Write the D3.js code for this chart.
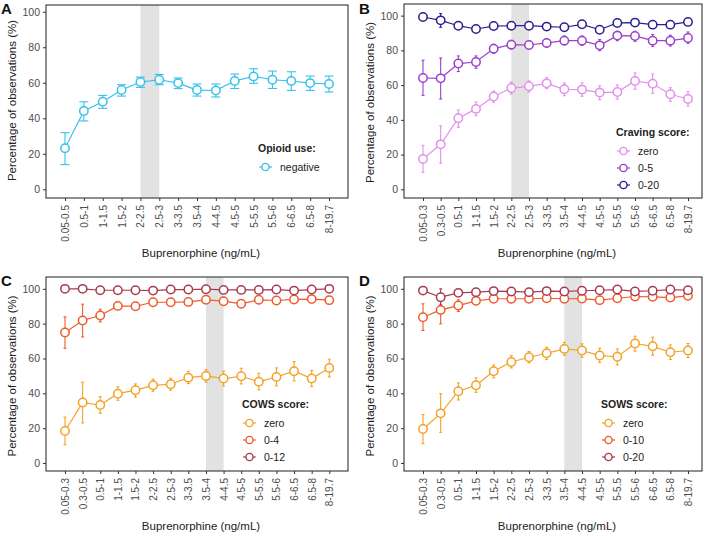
<!DOCTYPE html>
<html><head><meta charset="utf-8">
<script src="https://cdn.jsdelivr.net/npm/d3@7"></script>
<style>body{margin:0;background:#fff}svg{display:block;font-family:"Liberation Sans",Arial,sans-serif}</style>
</head><body><svg id="c" width="708" height="536"></svg>
<script>
// ---------- data ----------
const catsA = ["0.05-0.5","0.5-1","1-1.5","1.5-2","2-2.5","2.5-3","3-3.5","3.5-4","4-4.5","4.5-5","5-5.5","5.5-6","6-6.5","6.5-8","8-19.7"];
const catsBCD = ["0.05-0.3","0.3-0.5","0.5-1","1-1.5","1.5-2","2-2.5","2.5-3","3-3.5","3.5-4","4-4.5","4.5-5","5-5.5","5.5-6","6-6.5","6.5-8","8-19.7"];
const yTicks = [0,20,40,60,80,100];

// A: opioid use negative
const opioidNeg   = [23.1,44.1,49.3,55.9,60.4,61.7,59.8,55.9,55.7,61.0,63.6,61.7,61.0,59.8,59.3];
const opioidNegLo = [13.9,38.5,45.6,52.5,57.4,58.9,56.7,52.5,52.0,56.8,59.7,56.8,55.7,55.7,54.8];
const opioidNegHi = [31.9,49.3,52.9,58.9,63.2,64.7,62.7,59.3,59.3,64.9,67.9,66.6,66.2,63.8,63.8];

// B: craving score
const cravZero   = [17.5,25.9,40.9,46.3,53.4,58.3,59.3,61.0,57.6,57.4,55.7,56.0,62.4,60.8,54.7,52.0];
const cravZeroLo = [9.8,15.0,35.7,42.4,50.1,54.9,56.0,58.0,53.9,53.6,51.6,52.0,57.6,55.3,50.7,48.0];
const cravZeroHi = [25.3,36.5,45.7,50.3,56.6,61.8,62.4,64.3,61.2,61.2,59.5,60.1,67.0,66.4,58.5,56.2];
const crav05   = [64.1,63.9,72.4,73.3,81.0,83.3,83.1,84.3,85.6,85.6,82.9,88.5,88.3,85.6,85.6,87.1];
const crav05Lo = [54.1,52.0,67.8,69.7,78.3,80.8,80.8,81.8,83.1,82.9,79.8,85.6,85.2,82.3,82.5,84.1];
const crav05Hi = [74.3,75.6,76.8,76.8,83.5,85.8,85.2,86.8,88.3,88.3,86.2,91.0,91.0,89.1,88.7,90.6];
const crav020   = [99.2,97.3,94.2,92.3,94.0,94.2,94.2,93.7,93.3,95.0,91.9,95.8,96.0,94.8,94.8,96.4];
const crav020Lo = [98.3,93.3,92.7,90.8,92.5,92.9,92.9,92.4,91.9,93.5,89.8,93.8,94.0,92.8,93.3,94.9];
const crav020Hi = [100,101.2,95.8,93.9,95.5,95.5,95.5,95.0,94.7,96.5,94.0,97.8,98.0,96.8,96.3,97.9];

// C: COWS score
const cowsZero   = [18.4,34.7,33.3,39.8,41.8,44.6,45.2,49.0,50.0,48.5,49.8,46.7,49.4,52.7,48.5,54.6];
const cowsZeroLo = [10.5,23.0,28.5,36.0,37.9,41.2,41.8,45.6,46.4,44.3,45.4,42.0,44.3,47.1,43.9,49.4];
const cowsZeroHi = [26.4,46.4,38.1,43.7,45.4,48.1,48.7,52.7,53.6,52.7,54.4,51.5,54.6,58.2,53.1,59.6];
const cows04   = [74.9,81.8,84.7,90.2,90.0,92.3,92.3,92.5,93.7,92.9,91.4,93.7,93.3,93.9,94.1,93.5];
const cows04Lo = [65.9,72.4,81.0,88.3,88.1,90.5,90.5,90.7,91.8,90.7,89.2,91.5,91.0,91.6,92.2,91.6];
const cows04Hi = [83.9,91.2,88.3,92.1,91.9,94.1,94.1,94.3,95.6,95.1,93.6,95.9,95.6,96.2,96.0,95.4];
const cows012   = [100,100,99.2,99.2,99.2,99.0,99.6,99.6,99.8,99.4,99.4,99.4,99.6,99.0,99.6,100];
const cows012Lo = [99.6,99.5,98.6,98.6,98.6,98.3,99.0,99.0,99.3,98.8,98.8,98.8,99.0,98.3,99.0,99.5];
const cows012Hi = [100,100,99.7,99.7,99.7,99.6,100,100,100,99.9,99.9,99.9,100,99.6,100,100];

// D: SOWS score
const sowsZero   = [19.5,28.5,41.2,44.6,52.7,58.0,60.7,63.0,65.5,64.6,61.7,61.0,68.6,67.0,63.6,64.6];
const sowsZeroLo = [11.1,17.6,36.2,40.6,48.9,54.6,57.5,59.4,61.9,60.7,57.7,56.3,64.2,61.9,59.4,60.5];
const sowsZeroHi = [27.8,39.8,46.0,48.9,56.3,61.7,64.0,66.5,69.2,68.4,65.9,65.5,72.8,72.2,67.8,68.6];
const sows010   = [83.7,87.9,90.4,93.1,94.3,94.3,94.3,94.6,94.3,94.4,93.5,94.6,95.6,95.4,95.0,96.0];
const sows010Lo = [76.1,79.9,87.0,91.0,92.5,92.6,92.6,93.0,92.6,92.6,91.8,93.0,94.0,93.7,93.3,94.5];
const sows010Hi = [91.4,95.8,93.7,95.2,96.1,96.0,96.0,96.2,96.0,96.2,95.2,96.2,97.2,97.1,96.7,97.5];
const sows020   = [99.0,95.2,97.7,98.1,98.7,98.5,98.1,98.7,98.5,98.9,99.2,99.6,98.5,98.9,99.6,99.2];
const sows020Lo = [98.0,90.8,96.2,97.1,97.9,97.7,97.3,97.9,97.7,98.1,98.5,99.0,97.7,98.2,99.0,98.5];
const sows020Hi = [100,100,99.2,99.1,99.5,99.3,98.9,99.5,99.3,99.6,99.8,100,99.3,99.6,100,99.8];

// ---------- panels ----------
const panels = [
  {letter:"A", cats:catsA, band:["2-2.5","2.5-3"], frame:{x0:46,x1:348,y0:5,y1:198}, pts:[65,329], yDom:[-4.9,103.8],
   legendTitle:"Opioid use:", legend:{x:258,y:152}, capW:4.5,
   series:[{name:"negative", color:"#38c1ea", v:opioidNeg, lo:opioidNegLo, hi:opioidNegHi}]},
  {letter:"B", cats:catsBCD, band:["2-2.5","2.5-3"], frame:{x0:404,x1:702,y0:4,y1:198}, pts:[423,688], yDom:[-5.0,106.7],
   legendTitle:"Craving score:", legend:{x:616,y:136}, capW:1.5,
   series:[{name:"zero", color:"#e48ef0", v:cravZero, lo:cravZeroLo, hi:cravZeroHi},
           {name:"0-5", color:"#9a40cc", v:crav05, lo:crav05Lo, hi:crav05Hi},
           {name:"0-20", color:"#2a1f8e", v:crav020, lo:crav020Lo, hi:crav020Hi}]},
  {letter:"C", cats:catsBCD, band:["3.5-4","4-4.5"], frame:{x0:46,x1:348,y0:277,y1:471}, pts:[65,329.3], yDom:[-4.6,106.8],
   legendTitle:"COWS score:", legend:{x:242,y:408}, capW:1.5,
   series:[{name:"zero", color:"#f4a126", v:cowsZero, lo:cowsZeroLo, hi:cowsZeroHi},
           {name:"0-4", color:"#ef5b2c", v:cows04, lo:cows04Lo, hi:cows04Hi},
           {name:"0-12", color:"#a83a50", v:cows012, lo:cows012Lo, hi:cows012Hi}]},
  {letter:"D", cats:catsBCD, band:["3.5-4","4-4.5"], frame:{x0:404,x1:702,y0:277,y1:471}, pts:[423,688], yDom:[-4.6,106.8],
   legendTitle:"SOWS score:", legend:{x:601,y:408}, capW:1.5,
   series:[{name:"zero", color:"#f4a126", v:sowsZero, lo:sowsZeroLo, hi:sowsZeroHi},
           {name:"0-10", color:"#ef5b2c", v:sows010, lo:sows010Lo, hi:sows010Hi},
           {name:"0-20", color:"#a83a50", v:sows020, lo:sows020Lo, hi:sows020Hi}]}
];

const svg = d3.select("#c");
const tickCol = "#4d4d4d";

panels.forEach(p => {
  const f = p.frame;
  const x = d3.scalePoint().domain(p.cats).range(p.pts);
  const y = d3.scaleLinear().domain(p.yDom).range([f.y1, f.y0]);
  const g = svg.append("g");

  // band
  g.append("rect").attr("x", x(p.band[0])).attr("y", f.y0)
    .attr("width", x(p.band[1]) - x(p.band[0])).attr("height", f.y1 - f.y0)
    .attr("fill", "#e2e2e2");

  // axes
  const xa = g.append("g").attr("transform", `translate(0,${f.y1})`)
    .call(d3.axisBottom(x).tickSize(3).tickPadding(4));
  xa.select(".domain").remove();
  xa.selectAll("line").attr("stroke", "#333");
  xa.selectAll("text").attr("transform", "rotate(-90)")
    .attr("text-anchor", "end").attr("x", -7).attr("y", 0).attr("dy", "0.35em")
    .attr("font-size", "10px").attr("fill", tickCol).attr("font-family", "Liberation Sans, Arial, sans-serif");

  const ya = g.append("g").attr("transform", `translate(${f.x0},0)`)
    .call(d3.axisLeft(y).tickValues(yTicks).tickSize(3).tickPadding(3));
  ya.select(".domain").remove();
  ya.selectAll("line").attr("stroke", "#333");
  ya.selectAll("text").attr("font-size", "10.5px").attr("fill", tickCol)
    .attr("font-family", "Liberation Sans, Arial, sans-serif");

  // frame
  g.append("rect").attr("x", f.x0).attr("y", f.y0).attr("width", f.x1 - f.x0).attr("height", f.y1 - f.y0)
    .attr("fill", "none").attr("stroke", "#333").attr("stroke-width", 1.1);

  // axis titles
  g.append("text").attr("x", (f.x0 + f.x1) / 2 + 4).attr("y", f.y1 + 59)
    .attr("text-anchor", "middle").attr("font-size", "11.5px").attr("fill", "#222")
    .text("Buprenorphine (ng/mL)");
  g.append("text").attr("transform", `translate(${f.x0 - 30},${(y(0) + y(100)) / 2}) rotate(-90)`)
    .attr("text-anchor", "middle").attr("font-size", "11.5px").attr("fill", "#222")
    .text("Percentage of observations (%)");

  // panel letter
  g.append("text").attr("x", f.x0 - 45).attr("y", Math.max(f.y0 + 9, 14))
    .attr("font-size", "15px").attr("font-weight", "bold").attr("fill", "#111").text(p.letter);

  // series
  p.series.forEach(s => {
    const pts = p.cats.map((c, i) => ({c, v: s.v[i], lo: s.lo[i], hi: s.hi[i]}));
    g.append("path").datum(pts)
      .attr("d", d3.line().x(d => x(d.c)).y(d => y(d.v)))
      .attr("fill", "none").attr("stroke", s.color).attr("stroke-width", 1.2);
    const eb = g.append("g").attr("stroke", s.color).attr("stroke-width", 1.1);
    pts.forEach(d => {
      eb.append("line").attr("x1", x(d.c)).attr("x2", x(d.c)).attr("y1", y(d.lo)).attr("y2", y(d.hi));
      eb.append("line").attr("x1", x(d.c) - p.capW).attr("x2", x(d.c) + p.capW).attr("y1", y(d.lo)).attr("y2", y(d.lo));
      eb.append("line").attr("x1", x(d.c) - p.capW).attr("x2", x(d.c) + p.capW).attr("y1", y(d.hi)).attr("y2", y(d.hi));
    });
    g.append("g").selectAll("circle").data(pts).join("circle")
      .attr("cx", d => x(d.c)).attr("cy", d => y(d.v)).attr("r", 4.2)
      .attr("fill", "#fff").attr("stroke", s.color).attr("stroke-width", 1.5);
  });

  // legend
  const lg = g.append("g").attr("transform", `translate(${p.legend.x},${p.legend.y})`);
  lg.append("text").attr("x", 0).attr("y", 0).attr("font-size", "10.5px").attr("font-weight", "bold")
    .attr("fill", "#222").text(p.legendTitle);
  p.series.forEach((s, i) => {
    const yy = 15 + i * 17;
    const row = lg.append("g").attr("transform", `translate(0,${yy})`);
    row.append("line").attr("x1", 1).attr("x2", 14).attr("y1", 0).attr("y2", 0)
      .attr("stroke", s.color).attr("stroke-width", 1.2);
    row.append("circle").attr("cx", 7.5).attr("cy", 0).attr("r", 3.6)
      .attr("fill", "#fff").attr("stroke", s.color).attr("stroke-width", 1.4);
    row.append("text").attr("x", 22).attr("y", 0).attr("dy", "0.35em")
      .attr("font-size", "10.5px").attr("fill", "#222").text(s.name);
  });
});
</script></body></html>
